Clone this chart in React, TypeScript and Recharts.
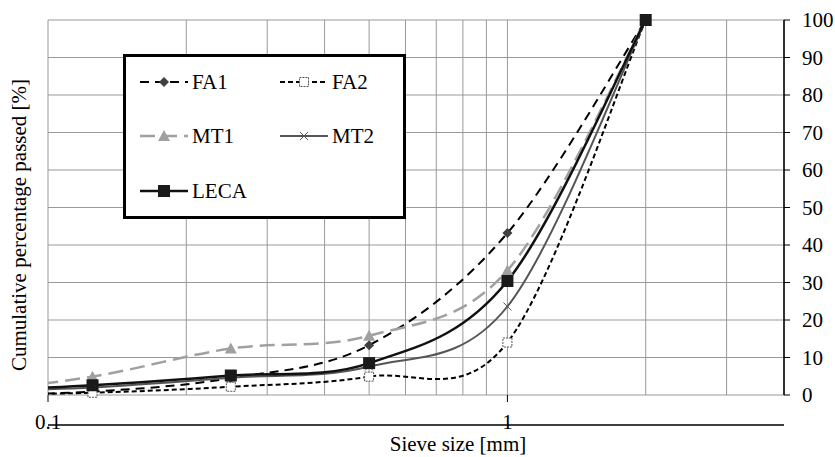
import React from 'react';
import { LineChart, Line, Scatter, XAxis, YAxis, CartesianGrid } from 'recharts';

// sieve sizes [mm]; the 0.063 point sits left of the axis and is clipped
const sieveSizes = [0.063, 0.125, 0.25, 0.5, 1, 2];
const fa1 = [0, 0.9, 4.5, 13.3, 43.2, 100];
const fa2 = [0, 0.6, 2.2, 4.9, 14, 100];
const mt1 = [0.3, 4.9, 12.4, 15.8, 33.2, 100];
const mt2 = [0.8, 2, 4.6, 7.6, 23.6, 100];
const leca = [0.9, 2.6, 5.2, 8.5, 30.4, 100];

const xTicks = [0.1, 0.2, 0.3, 0.4, 0.5, 0.6, 0.7, 0.8, 0.9, 1, 2, 3, 4];
const xLabels = [0.1, 1];
const yTicks = [0, 10, 20, 30, 40, 50, 60, 70, 80, 90, 100];

const FONT = "'Liberation Serif', 'Times New Roman', serif";
const W = 835;
const H = 457;
const X_AXIS_H = 62;
const AXIS_Y = H - X_AXIS_H;

const rows = sieveSizes.map((size, i) => ({
  size,
  FA1: fa1[i],
  FA2: fa2[i],
  MT1: mt1[i],
  MT2: mt2[i],
  LECA: leca[i],
}));

const markerData = (vals: number[]) =>
  sieveSizes.map((x, i) => ({ x, y: vals[i] })).filter((d) => d.x >= 0.1);

// Excel-like smoothed line (catmull-rom style bezier)
const excelSmooth = (context: any) => {
  let pts: number[][] = [];
  return {
    areaStart() {},
    areaEnd() {},
    lineStart() {
      pts = [];
    },
    point(x: number, y: number) {
      pts.push([+x, +y]);
    },
    lineEnd() {
      if (!pts.length) return;
      context.moveTo(pts[0][0], pts[0][1]);
      for (let i = 0; i < pts.length - 1; i++) {
        const p0 = pts[i - 1] || pts[i];
        const p1 = pts[i];
        const p2 = pts[i + 1];
        const p3 = pts[i + 2] || p2;
        context.bezierCurveTo(
          p1[0] + (p2[0] - p0[0]) / 6,
          p1[1] + (p2[1] - p0[1]) / 6,
          p2[0] - (p3[0] - p1[0]) / 6,
          p2[1] - (p3[1] - p1[1]) / 6,
          p2[0],
          p2[1]
        );
      }
    },
  };
};

const Diamond = ({ cx, cy }: any) => (
  <polygon points={`${cx},${cy - 5} ${cx + 5},${cy} ${cx},${cy + 5} ${cx - 5},${cy}`} fill="#404040" />
);
const OpenSquare = ({ cx, cy }: any) => (
  <rect x={cx - 4.5} y={cy - 4.5} width={9} height={9} fill="#fff" stroke="#555" strokeWidth={1} strokeDasharray="2 1" />
);
const Triangle = ({ cx, cy }: any) => (
  <polygon points={`${cx},${cy - 6} ${cx + 6},${cy + 5} ${cx - 6},${cy + 5}`} fill="#a0a0a0" />
);
const Cross = ({ cx, cy }: any) => (
  <g stroke="#555" strokeWidth={1}>
    <line x1={cx - 4} y1={cy - 4} x2={cx + 4} y2={cy + 4} />
    <line x1={cx - 4} y1={cy + 4} x2={cx + 4} y2={cy - 4} />
  </g>
);
const Square = ({ cx, cy }: any) => (
  <rect x={cx - 6} y={cy - 6} width={12} height={12} fill="#1a1a1a" />
);

const series = [
  { key: 'FA1', values: fa1, stroke: '#000', width: 2, dash: '9 6', Marker: Diamond },
  { key: 'FA2', values: fa2, stroke: '#000', width: 2, dash: '5 3', Marker: OpenSquare },
  { key: 'MT1', values: mt1, stroke: '#a0a0a0', width: 2.5, dash: '15 7', Marker: Triangle },
  { key: 'MT2', values: mt2, stroke: '#555', width: 2, dash: undefined, Marker: Cross },
  { key: 'LECA', values: leca, stroke: '#111', width: 2.5, dash: undefined, Marker: Square },
];

const XTick = ({ x, payload }: any) => {
  const v = payload.value;
  if (!xLabels.includes(v)) return null;
  return (
    <g>
      <line x1={x} x2={x} y1={AXIS_Y} y2={AXIS_Y + 7} stroke="#000" />
      <text x={x} y={AXIS_Y + 34} textAnchor="middle" fontSize={21} fontFamily={FONT} fill="#000">
        {v}
      </text>
    </g>
  );
};

const legendCols = [140, 280];
const legendRows = [82, 136, 191];

const Overlay = () => (
  <svg width={W} height={H} style={{ position: 'absolute', left: 0, top: 0, pointerEvents: 'none' }}>
    <rect x={124.5} y={55.5} width={280} height={162} fill="#fff" stroke="#000" strokeWidth={3} />
    {series.map((s, i) => {
      const x0 = legendCols[i % 2];
      const y = legendRows[Math.floor(i / 2)];
      const M = s.Marker;
      return (
        <g key={s.key}>
          <line x1={x0} x2={x0 + 48} y1={y} y2={y} stroke={s.stroke} strokeWidth={s.width} strokeDasharray={s.dash} />
          <M cx={x0 + 24} cy={y} />
          <text x={x0 + 52} y={y + 7} fontSize={21} fontFamily={FONT} fill="#000">
            {s.key}
          </text>
        </g>
      );
    })}
    <text x={458} y={451} textAnchor="middle" fontSize={21} fontFamily={FONT} fill="#000">
      Sieve size [mm]
    </text>
    <text
      x={0}
      y={0}
      transform="translate(26, 225) rotate(-90)"
      textAnchor="middle"
      fontSize={21}
      fontFamily={FONT}
      fill="#000"
    >
      Cumulative percentage passed [%]
    </text>
  </svg>
);

export default function App() {
  return (
    <div style={{ position: 'absolute', left: 0, top: 0, width: W, height: H, background: '#fff' }}>
      <LineChart width={W} height={H} data={rows} margin={{ top: 20, right: 0, bottom: 0, left: 48 }}>
        <CartesianGrid xAxisId="main" yAxisId="r" stroke="#999" strokeWidth={1} />
        <XAxis
          xAxisId="main"
          dataKey="x"
          type="number"
          scale="log"
          domain={[0.1, 4]}
          ticks={xTicks}
          interval={0}
          height={X_AXIS_H}
          tickSize={0}
          tickMargin={0}
          tick={<XTick />}
          axisLine={{ stroke: '#000', strokeWidth: 1.5 }}
        />
        <XAxis xAxisId="clip" dataKey="size" type="number" scale="log" domain={[0.1, 4]} allowDataOverflow hide />
        <YAxis
          yAxisId="r"
          orientation="right"
          type="number"
          domain={[0, 100]}
          ticks={yTicks}
          interval={0}
          width={51}
          tickSize={6}
          tickMargin={12}
          tickLine={{ stroke: '#000' }}
          axisLine={{ stroke: '#000', strokeWidth: 1.5 }}
          tick={{ fill: '#000', fontSize: 21, fontFamily: FONT, textAnchor: 'start' }}
        />
        {series.map((s) => (
          <Line
            key={s.key}
            xAxisId="clip"
            yAxisId="r"
            dataKey={s.key}
            type={excelSmooth as any}
            stroke={s.stroke}
            strokeWidth={s.width}
            strokeDasharray={s.dash}
            dot={false}
            activeDot={false}
            isAnimationActive={false}
          />
        ))}
        {series.map((s) => (
          <Scatter
            key={'m' + s.key}
            xAxisId="main"
            yAxisId="r"
            data={markerData(s.values)}
            dataKey="y"
            shape={(p: any) => <s.Marker cx={p.cx} cy={p.cy} />}
            isAnimationActive={false}
          />
        ))}
      </LineChart>
      <Overlay />
    </div>
  );
}
